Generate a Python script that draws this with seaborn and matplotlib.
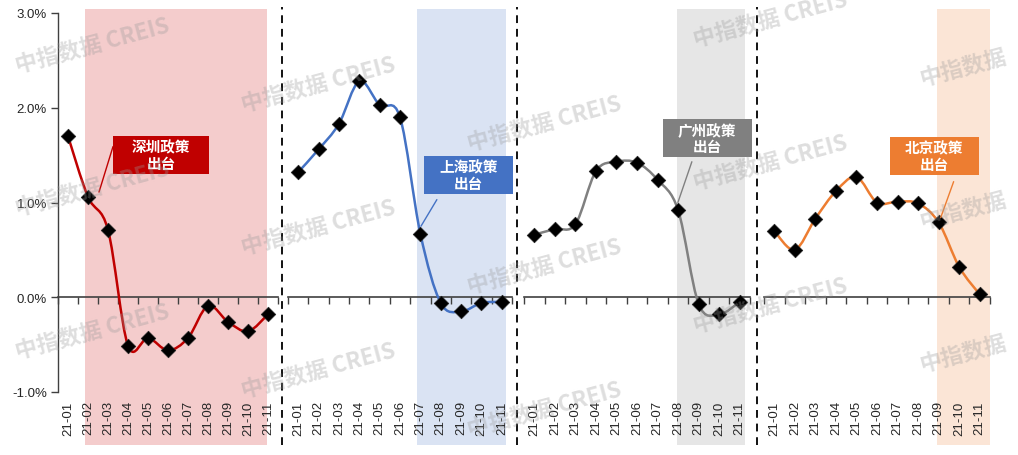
import numpy as np
import pandas as pd
import matplotlib
matplotlib.use('Agg')
import matplotlib.pyplot as plt
import matplotlib.transforms as mtransforms
from matplotlib.patches import Rectangle, PathPatch
from matplotlib.path import Path
from matplotlib.ticker import FuncFormatter
import seaborn as sns

## data (monthly change, %)
months = ['21-01', '21-02', '21-03', '21-04', '21-05', '21-06',
          '21-07', '21-08', '21-09', '21-10', '21-11']
shenzhen = [1.70, 1.06, 0.71, -0.51, -0.43, -0.56, -0.43, -0.09, -0.26, -0.36, -0.18]
shanghai = [1.32, 1.56, 1.83, 2.28, 2.03, 1.90, 0.67, -0.06, -0.15, -0.06, -0.05]
guangzhou = [0.66, 0.72, 0.77, 1.33, 1.43, 1.42, 1.24, 0.92, -0.07, -0.18, -0.05]
beijing = [0.70, 0.50, 0.83, 1.12, 1.27, 1.00, 1.01, 0.99, 0.79, 0.32, 0.03]
cities = ['深圳', '上海', '广州', '北京']
notes = ['深圳政策\n出台', '上海政策\n出台', '广州政策\n出台', '北京政策\n出台']
y_ticks = [-1, 0, 1, 2, 3]

data = pd.DataFrame({
    'city': np.repeat(cities, len(months)),
    'month': months * len(cities),
    'value': shenzhen + shanghai + guangzhou + beijing,
})

## styles
line_colors = ['#C00000', '#4472C4', '#808080', '#ED7D31']
shade_colors = ['#F4CCCC', '#DAE3F3', '#E6E6E6', '#FBE5D6']
shade_spans = [(0.85, 9.95), (5.83, 10.2), (6.94, 10.24), (7.9, 10.5)]
# note box (x0, x1, y0, y1) and leader (from, to), in data units
boxes = [(2.25, 7.05, 1.30, 1.70), (6.18, 10.54, 1.09, 1.49),
         (6.26, 10.58, 1.48, 1.88), (5.61, 9.95, 1.29, 1.69)]
leaders = [((2.25, 1.59), (1.55, 1.11)), ((6.81, 1.03), (6.03, 0.75)),
           ((7.67, 1.43), (6.99, 1.00)), ((8.73, 1.22), (8.10, 0.84))]
# axes left/right edges in pixels
panel_px = [(58, 278), (288, 512), (524, 750), (764, 990)]
sep_px = [282, 517, 757]

W, H = 1018, 456
sns.set_style('white')
plt.rcParams['font.family'] = ['Liberation Sans', 'Noto Sans CJK SC', 'DejaVu Sans']
cjk = ['Noto Sans CJK SC', 'DejaVu Sans']

fig = plt.figure(figsize=(W / 100, H / 100), dpi=100)
ax_bottom = 1 - 393 / H
ax_height = (393 - 14) / H


def smooth_path(xs, ys):
    pts = np.column_stack([xs, ys])
    n = len(pts)
    verts = [pts[0]]
    codes = [Path.MOVETO]
    for i in range(n - 1):
        p0 = pts[max(i - 1, 0)]
        p1 = pts[i]
        p2 = pts[i + 1]
        p3 = pts[min(i + 2, n - 1)]
        verts += [p1 + (p2 - p0) / 6, p2 - (p3 - p1) / 6, p2]
        codes += [Path.CURVE4] * 3
    return Path(verts, codes)


for k, city in enumerate(cities):
    left, right = panel_px[k]
    ax = fig.add_axes([left / W, ax_bottom, (right - left) / W, ax_height])
    ax.set_facecolor('none')
    sub = data[data['city'] == city]

    # policy window shading (runs above and below the plot area)
    trans = mtransforms.blended_transform_factory(ax.transData, fig.transFigure)
    s0, s1 = shade_spans[k]
    ax.add_patch(Rectangle((s0, 1 - 446 / H), s1 - s0, (446 - 10) / H,
                           transform=trans, color=shade_colors[k],
                           lw=0, zorder=0, clip_on=False))

    # smoothed line + diamond markers
    xs = np.arange(len(sub))
    ax.add_patch(PathPatch(smooth_path(xs, sub['value'].values), fill=False,
                           edgecolor=line_colors[k], lw=1.8, zorder=3,
                           clip_on=False))
    sns.scatterplot(data=sub, x='month', y='value', marker='D', color='black',
                    s=55, edgecolor='#222222', linewidth=0.5, zorder=4,
                    ax=ax, legend=False)

    # note box with leader line
    bx0, bx1, by0, by1 = boxes[k]
    ax.add_patch(Rectangle((bx0, by0), bx1 - bx0, by1 - by0,
                           color=line_colors[k], lw=0, zorder=5, clip_on=False))
    ax.text((bx0 + bx1) / 2, (by0 + by1) / 2, notes[k], ha='center',
            va='center', color='white', fontsize=10.5, fontweight='bold',
            family=cjk, linespacing=1.05, zorder=6)
    (lx0, ly0), (lx1, ly1) = leaders[k]
    ax.plot([lx0, lx1], [ly0, ly1], color=line_colors[k], lw=1, zorder=5,
            clip_on=False)

    ax.set_xlim(-0.5, len(months) - 0.5)
    ax.set_ylim(-1, 3)
    ax.set_xticks(range(len(months)))
    ax.set_xticklabels(months, rotation=90, fontsize=9.5)
    ax.tick_params(axis='x', length=0, pad=6)
    ax.set_xlabel('')
    ax.set_ylabel('')
    for side in ['top', 'right', 'bottom']:
        ax.spines[side].set_visible(False)
    if k == 0:
        ax.set_yticks(y_ticks)
        ax.yaxis.set_major_formatter(FuncFormatter(lambda v, p: f'{v:.1f}%'))
        ax.tick_params(axis='y', left=True, length=5, width=1,
                       color='#404040', labelsize=9.5, pad=3)
        ax.spines['left'].set_color('#404040')
        ax.spines['left'].set_linewidth(1)
    else:
        ax.spines['left'].set_visible(False)
        ax.set_yticks([])

    # zero line with category boundary ticks
    sec = ax.secondary_xaxis(0, transform=ax.transData)
    sec.set_alignment('bottom')
    sec.set_xticks(np.arange(-0.5, len(months), 1))
    sec.set_xticklabels([])
    sec.tick_params(length=5, width=1, color='#404040', direction='out')
    sec.spines['bottom'].set_color('#404040')
    sec.spines['bottom'].set_linewidth(1.2)

# dashed separators between panels
for x in sep_px:
    fig.add_artist(plt.Line2D([x / W, x / W], [1 - 446 / H, 1 - 8 / H],
                              transform=fig.transFigure, color='#111111',
                              lw=1.4, linestyle=(0, (4, 3))))

# watermarks (last column only shows the Chinese part before the edge)
for c in range(5):
    mark = '中指数据 CREIS' if c < 4 else '中指数据'
    for r in range(-1, 4):
        px = 17 + 226 * c
        py = 73 + 39 * c + 143 * r
        if py < 20 or py > 470:
            continue
        fig.text(px / W, 1 - py / H, mark, rotation=15,
                 rotation_mode='anchor', ha='left', va='baseline',
                 fontsize=16, fontweight='bold', family=cjk,
                 color='#9a9a9a', alpha=0.33, zorder=10)

fig.savefig('out.png', dpi=100)
